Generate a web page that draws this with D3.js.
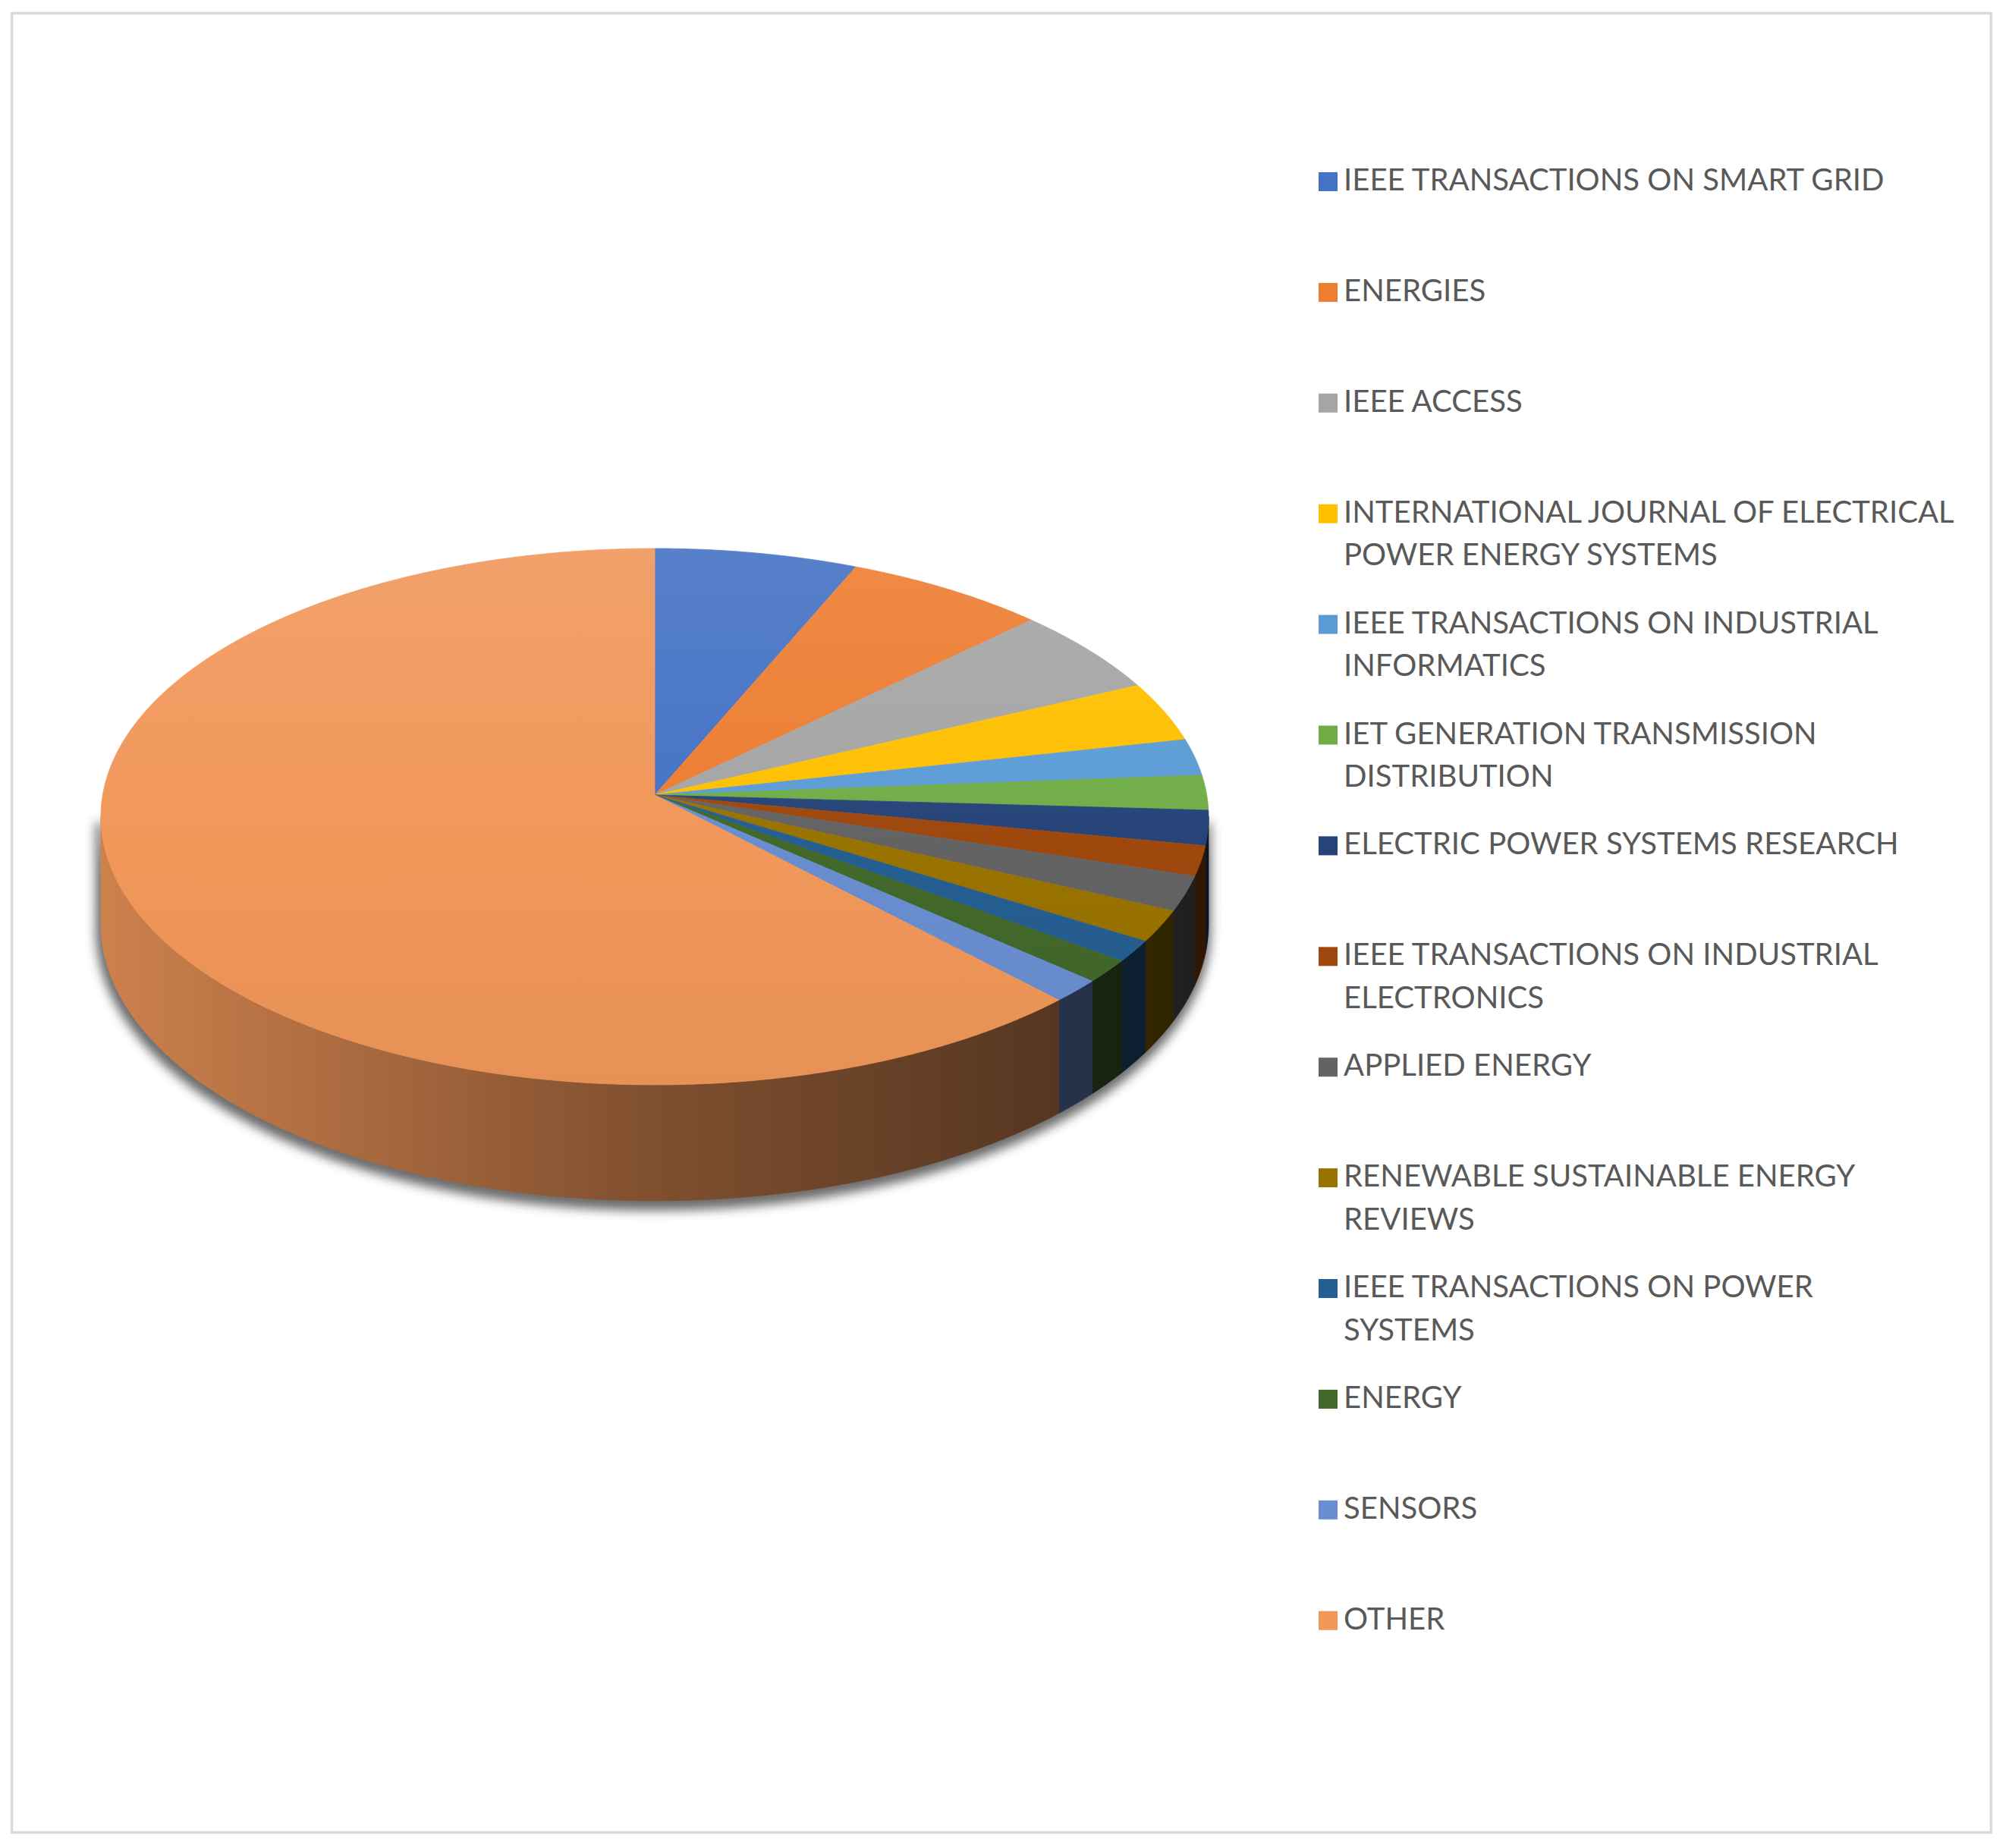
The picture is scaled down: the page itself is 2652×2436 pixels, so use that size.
<!DOCTYPE html>
<html>
<head>
<meta charset="utf-8">
<script src="https://cdn.jsdelivr.net/npm/d3@7"></script>
<style>
  html, body { margin: 0; padding: 0; background: #ffffff; }
  svg { display: block; }
</style>
</head>
<body>
<script>
// ---------------- DATA ----------------
const categories = [
  "IEEE TRANSACTIONS ON SMART GRID",
  "ENERGIES",
  "IEEE ACCESS",
  "INTERNATIONAL JOURNAL OF ELECTRICAL POWER ENERGY SYSTEMS",
  "IEEE TRANSACTIONS ON INDUSTRIAL INFORMATICS",
  "IET GENERATION TRANSMISSION DISTRIBUTION",
  "ELECTRIC POWER SYSTEMS RESEARCH",
  "IEEE TRANSACTIONS ON INDUSTRIAL ELECTRONICS",
  "APPLIED ENERGY",
  "RENEWABLE SUSTAINABLE ENERGY REVIEWS",
  "IEEE TRANSACTIONS ON POWER SYSTEMS",
  "ENERGY",
  "SENSORS",
  "OTHER"
];
// share of publications (%)
const values = [6.4, 6.4, 5.2, 3.6, 2.2, 2.1, 2.1, 1.8, 2.1, 1.9, 1.3, 1.4, 1.4, 62.1];
const colors = [
  "#4472C4", "#ED7D31", "#A5A5A5", "#FFC000", "#5B9BD5", "#70AD47", "#264478",
  "#9E480E", "#636363", "#997300", "#255E91", "#43682B", "#698ED0", "#F1975A"
];
// number of words on the first legend line (0 = single line)
const legendBreakAfter = [0, 0, 0, 4, 4, 3, 0, 4, 0, 3, 4, 0, 0, 0];

// ---------------- LAYOUT ----------------
const W = 2652, H = 2436;
const svg = d3.select("body").append("svg").attr("width", W).attr("height", H);
const defs = svg.append("defs");

svg.append("rect").attr("x", 0).attr("y", 0).attr("width", W).attr("height", H).attr("fill", "#fff");
svg.append("rect")
  .attr("x", 15.5).attr("y", 17.5).attr("width", 2609).attr("height", 2398)
  .attr("fill", "none").attr("stroke", "#d9d9d9").attr("stroke-width", 3.5);

// 3D perspective pie projection
const cx = 863, cy = 1048, A = 727.6, B = 351.2, K = 0.0806, D = 140.5;
function P(t, z) {
  const u = Math.sin(t), v = Math.cos(t), w = 1 + K * v;
  return [cx + A * u / w, cy + (-B * v + D * z) / w];
}
function arcPts(a0, a1, z) {
  const n = Math.max(2, Math.ceil(Math.abs(a1 - a0) * 180));
  const pts = [];
  for (let i = 0; i <= n; i++) pts.push(P(a0 + (a1 - a0) * i / n, z));
  return pts;
}
const line = d3.line().curve(d3.curveLinear);
const color = d3.scaleOrdinal().domain(categories).range(colors);
const pie = d3.pie().sort(null).value(d => d);
const arcs = pie(values);

const ts1 = Math.acos(-K), ts2 = 2 * Math.PI - Math.acos(-K);

// gradients
arcs.forEach((a, i) => {
  const c = color(categories[i]);
  const gt = defs.append("linearGradient").attr("id", "top" + i)
    .attr("gradientUnits", "userSpaceOnUse")
    .attr("x1", 0).attr("y1", 723).attr("x2", 0).attr("y2", 1430);
  gt.append("stop").attr("offset", 0).attr("stop-color", d3.interpolateRgb(c, "#ffffff")(0.1));
  gt.append("stop").attr("offset", 0.55).attr("stop-color", c);
  gt.append("stop").attr("offset", 1).attr("stop-color", d3.rgb(c).darker(0.12));
  const gs = defs.append("linearGradient").attr("id", "side" + i)
    .attr("gradientUnits", "userSpaceOnUse")
    .attr("x1", 135).attr("y1", 0).attr("x2", 1595).attr("y2", 0);
  gs.append("stop").attr("offset", 0).attr("stop-color", d3.rgb(c).darker(0.45));
  gs.append("stop").attr("offset", 0.5).attr("stop-color", d3.rgb(c).darker(1.8));
  gs.append("stop").attr("offset", 0.85).attr("stop-color", d3.rgb(c).darker(2.85));
  gs.append("stop").attr("offset", 1).attr("stop-color", d3.rgb(c).darker(3.3));
});

const blur = defs.append("filter").attr("id", "shadow")
  .attr("x", "-10%").attr("y", "-10%").attr("width", "120%").attr("height", "130%");
blur.append("feGaussianBlur").attr("stdDeviation", 7);

// shadow
const sil = arcPts(ts1, ts2, 0).concat(arcPts(ts2, ts1, 1));
svg.append("path")
  .attr("d", line(sil) + "Z")
  .attr("transform", "translate(-2,8)")
  .attr("fill", "#3a3a3a").attr("stroke", "#3a3a3a").attr("stroke-width", 10)
  .attr("opacity", 0.75)
  .attr("filter", "url(#shadow)");

// side walls
const gSide = svg.append("g");
arcs.forEach((a, i) => {
  const a0 = Math.max(a.startAngle, ts1), a1 = Math.min(a.endAngle, ts2);
  if (a0 >= a1) return;
  const pts = arcPts(a0, a1, 0).concat(arcPts(a1, a0, 1));
  gSide.append("path").attr("d", line(pts) + "Z")
    .attr("fill", `url(#side${i})`)
    .attr("stroke", `url(#side${i})`).attr("stroke-width", 0.8);
});

// top faces
const gTop = svg.append("g");
arcs.forEach((a, i) => {
  const pts = [[cx, cy]].concat(arcPts(a.startAngle, a.endAngle, 0));
  gTop.append("path").attr("d", line(pts) + "Z")
    .attr("fill", `url(#top${i})`)
    .attr("stroke", `url(#top${i})`).attr("stroke-width", 0.8)
    .attr("stroke-linejoin", "round");
});

// ---------------- LEGEND ----------------
const legend = svg.append("g").attr("font-family", "Lato, 'Open Sans', sans-serif").attr("fill", "#595959");
const probe = legend.append("text").attr("font-size", 40).text("INTERNATIONAL JOURNAL OF ELECTRICAL");
const measured = probe.node().getComputedTextLength();
probe.remove();
const fs = 40 * 805 / measured;

const lx = 1771, ly0 = 251, lstep = 145.9, lineH = 56.7, sq = 25;
categories.forEach((name, i) => {
  const words = name.split(" ");
  const nb = legendBreakAfter[i];
  const lines = nb ? [words.slice(0, nb).join(" "), words.slice(nb).join(" ")] : [name];
  const y = ly0 + i * lstep;
  legend.append("rect")
    .attr("x", lx - 8 - sq).attr("y", y - sq + 1).attr("width", sq).attr("height", sq)
    .attr("fill", color(name));
  const t = legend.append("text").attr("x", lx).attr("y", y).attr("font-size", fs);
  lines.forEach((l, j) => {
    t.append("tspan").attr("x", lx).attr("y", y + j * lineH).text(l);
  });
});
</script>
</body>
</html>
